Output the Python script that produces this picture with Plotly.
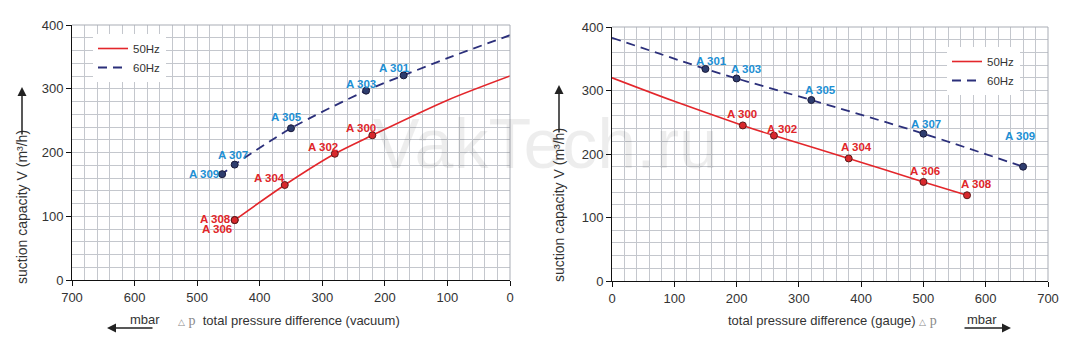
import plotly.graph_objects as go

# ---------------- data ----------------
# Left chart: vacuum
vac_50_curve_x = [0, 100, 220, 280, 360, 440]
vac_50_curve_y = [320, 282, 227, 198, 149, 94]
vac_60_curve_x = [0, 100, 170, 230, 350, 440, 460]
vac_60_curve_y = [384, 348, 321, 297, 238, 181, 166]

vac_50_pts_x = [220, 280, 360, 440, 440]
vac_50_pts_y = [227, 198, 149, 94, 94]
vac_50_names = ["A 300", "A 302", "A 304", "A 308", "A 306"]

vac_60_pts_x = [170, 230, 350, 440, 460]
vac_60_pts_y = [321, 297, 238, 181, 166]
vac_60_names = ["A 301", "A 303", "A 305", "A 307", "A 309"]

# Right chart: gauge (pressure)
gau_50_curve_x = [0, 100, 210, 260, 380, 500, 570]
gau_50_curve_y = [320, 283, 245, 229, 193, 156, 135]
gau_60_curve_x = [0, 150, 200, 320, 500, 660]
gau_60_curve_y = [383, 334, 319, 285, 232, 180]

gau_50_pts_x = [210, 260, 380, 500, 570]
gau_50_pts_y = [245, 229, 193, 156, 135]
gau_50_names = ["A 300", "A 302", "A 304", "A 306", "A 308"]

gau_60_pts_x = [150, 200, 320, 500, 660]
gau_60_pts_y = [334, 319, 285, 232, 180]
gau_60_names = ["A 301", "A 303", "A 305", "A 307", "A 309"]

x_ticks = [0, 100, 200, 300, 400, 500, 600, 700]
y_ticks = [0, 100, 200, 300, 400]

# label offsets in pixels (dx, dy-up)
vac_50_off = [(-11, 7), (-12, 7), (-15, 7), (-19, 1), (-18, -9)]
vac_60_off = [(-9, 7), (-5, 7), (-5, 11), (-2, 10), (-18, 0)]
gau_50_off = [(-1, 11), (8, 7), (8, 11), (2, 11), (9, 11)]
gau_60_off = [(6, 8), (9, 9), (9, 10), (3, 10), (-3, 31)]

# ---------------- style ----------------
W, H = 1072, 345
RED = "#e3262b"
NAVY = "#2b2f7a"
LBL_RED = "#e0262a"
LBL_BLUE = "#1d8fd3"
GRID = "#c4c7cd"
FONT = "Liberation Sans, Arial, sans-serif"
TXT = "#333333"

fig = go.Figure()

def add_series(cx, cy, px_, py_, color, dash, mfill, mline, xa, ya, name, legend):
    fig.add_trace(go.Scatter(
        x=cx, y=cy, mode="lines", name=name,
        line=dict(color=color, width=1.6 if dash == "solid" else 1.8, dash=dash,
                  shape="spline", smoothing=0.8),
        xaxis=xa, yaxis=ya, legend=legend, showlegend=True, hoverinfo="skip"))
    fig.add_trace(go.Scatter(
        x=px_, y=py_, mode="markers", showlegend=False,
        marker=dict(size=7, color=mfill, line=dict(color=mline, width=1)),
        xaxis=xa, yaxis=ya, hoverinfo="skip"))

add_series(vac_50_curve_x, vac_50_curve_y, vac_50_pts_x, vac_50_pts_y, RED, "solid", "#d8282c", "#5a1a1a", "x", "y", "50Hz", "legend")
add_series(vac_60_curve_x, vac_60_curve_y, vac_60_pts_x, vac_60_pts_y, NAVY, "9px,6px", "#2e3d6e", "#1a1a3a", "x", "y", "60Hz", "legend")
add_series(gau_50_curve_x, gau_50_curve_y, gau_50_pts_x, gau_50_pts_y, RED, "solid", "#d8282c", "#5a1a1a", "x2", "y2", "50Hz", "legend2")
add_series(gau_60_curve_x, gau_60_curve_y, gau_60_pts_x, gau_60_pts_y, NAVY, "9px,6px", "#2e3d6e", "#1a1a3a", "x2", "y2", "60Hz", "legend2")

annotations = []

def add_labels(xs, ys, names, offs, color, xref, yref):
    for x, y, n, (dx, dy) in zip(xs, ys, names, offs):
        annotations.append(dict(
            x=x, y=y, xref=xref, yref=yref, text="<b>%s</b>" % n, showarrow=False,
            xanchor="center", yanchor="middle", xshift=dx, yshift=dy,
            font=dict(family=FONT, size=11.5, color=color)))

add_labels(vac_50_pts_x, vac_50_pts_y, vac_50_names, vac_50_off, LBL_RED, "x", "y")
add_labels(vac_60_pts_x, vac_60_pts_y, vac_60_names, vac_60_off, LBL_BLUE, "x", "y")
add_labels(gau_50_pts_x, gau_50_pts_y, gau_50_names, gau_50_off, LBL_RED, "x2", "y2")
add_labels(gau_60_pts_x, gau_60_pts_y, gau_60_names, gau_60_off, LBL_BLUE, "x2", "y2")

def px(x):
    return x / W

def py(y):
    return (H - y) / H

# y-axis titles
for xp, yc in [(22, 207), (559, 205)]:
    annotations.append(dict(x=px(xp), y=py(yc), xref="paper", yref="paper",
                            text="suction capacity V (m³/h)", textangle=-90, showarrow=False,
                            xanchor="center", yanchor="middle",
                            font=dict(family=FONT, size=14, color=TXT)))
# y-axis arrows (head up)
for xp, yh, yt in [(22, 87, 136), (559, 85, 134)]:
    annotations.append(dict(x=px(xp), y=py(yh), xref="paper", yref="paper", text="",
                            showarrow=True, ax=0, ay=yt - yh, arrowhead=2, arrowsize=1.2,
                            arrowwidth=1.5, arrowcolor="#222222"))

dp = ('<span style="font-size:9px;color:#8a8a8a">△</span>'
      '<span style="font-family:Liberation Serif, serif;font-size:14px;color:#8a8a8a"> p</span>')
annotations.append(dict(x=px(176), y=py(320), xref="paper", yref="paper",
                        text=dp + "  total pressure difference (vacuum)", showarrow=False,
                        xanchor="left", yanchor="middle",
                        font=dict(family=FONT, size=13, color=TXT)))
annotations.append(dict(x=px(726), y=py(320), xref="paper", yref="paper",
                        text="total pressure difference (gauge) " + dp, showarrow=False,
                        xanchor="left", yanchor="middle",
                        font=dict(family=FONT, size=13, color=TXT)))
# mbar labels and arrows
annotations.append(dict(x=px(128), y=py(319), xref="paper", yref="paper", text="mbar",
                        showarrow=False, xanchor="left", yanchor="middle",
                        font=dict(family=FONT, size=13, color=TXT)))
annotations.append(dict(x=px(965), y=py(319), xref="paper", yref="paper", text="mbar",
                        showarrow=False, xanchor="left", yanchor="middle",
                        font=dict(family=FONT, size=13, color=TXT)))
annotations.append(dict(x=px(107), y=py(328), xref="paper", yref="paper", text="",
                        showarrow=True, ax=47, ay=0, arrowhead=2, arrowsize=1.2,
                        arrowwidth=1.5, arrowcolor="#222222"))
annotations.append(dict(x=px(1011), y=py(328), xref="paper", yref="paper", text="",
                        showarrow=True, ax=-48, ay=0, arrowhead=2, arrowsize=1.2,
                        arrowwidth=1.5, arrowcolor="#222222"))
# watermark
annotations.append(dict(x=px(545), y=py(144), xref="paper", yref="paper", text="VakTech.ru",
                        showarrow=False, xanchor="center", yanchor="middle",
                        font=dict(family=FONT, size=70, color="rgba(0,0,0,0.07)")))

def xaxis_cfg(domain, rng, anchor):
    return dict(domain=domain, range=rng, anchor=anchor, tickvals=x_ticks,
                automargin=False,
                showgrid=True, gridcolor=GRID, gridwidth=1, zeroline=False,
                showline=True, linecolor="#111111", linewidth=1,
                ticks="outside", ticklen=5, tickcolor="#111111",
                tickfont=dict(family=FONT, size=13, color=TXT),
                minor=dict(dtick=20, showgrid=True, gridcolor=GRID, gridwidth=1, ticks=""),
                fixedrange=True)

def yaxis_cfg(domain, anchor):
    return dict(domain=domain, range=[0, 400], anchor=anchor, tickvals=y_ticks,
                automargin=False,
                showgrid=True, gridcolor=GRID, gridwidth=1, zeroline=False,
                showline=True, linecolor="#111111", linewidth=1,
                ticks="outside", ticklen=5, tickcolor="#111111",
                tickfont=dict(family=FONT, size=13, color=TXT),
                minor=dict(dtick=20, showgrid=True, gridcolor=GRID, gridwidth=1, ticks=""),
                fixedrange=True)

lx0, lx1 = 72, 510
rx0, rx1 = 612, 1048
ly0, ly1 = 25, 280
ry0, ry1 = 27, 281

shapes = []
FRAME = "#a9adb5"
for (x0, x1, y0, y1) in [(lx0, lx1, ly0, ly1), (rx0, rx1, ry0, ry1)]:
    shapes.append(dict(type="line", xref="paper", yref="paper", x0=px(x0), x1=px(x1),
                       y0=py(y0), y1=py(y0), line=dict(color=FRAME, width=1)))
    shapes.append(dict(type="line", xref="paper", yref="paper", x0=px(x1), x1=px(x1),
                       y0=py(y0), y1=py(y1), line=dict(color=FRAME, width=1)))

fig.update_layout(
    width=W, height=H,
    margin=dict(l=0, r=0, t=0, b=0, pad=0, autoexpand=False),
    paper_bgcolor="white", plot_bgcolor="white",
    font=dict(family=FONT, size=12, color=TXT),
    xaxis=xaxis_cfg([px(lx0), px(lx1)], [700, 0], "y"),
    yaxis=yaxis_cfg([py(ly1), py(ly0)], "x"),
    xaxis2=xaxis_cfg([px(rx0), px(rx1)], [0, 700], "y2"),
    yaxis2=yaxis_cfg([py(ry1), py(ry0)], "x2"),
    legend=dict(x=px(93), y=py(34), xanchor="left", yanchor="top",
                bgcolor="white", borderwidth=0, itemwidth=30,
                font=dict(family=FONT, size=11.5, color=TXT), tracegroupgap=0),
    legend2=dict(x=px(947), y=py(47), xanchor="left", yanchor="top",
                 bgcolor="white", borderwidth=0, itemwidth=30,
                 font=dict(family=FONT, size=11.5, color=TXT), tracegroupgap=0),
    annotations=annotations,
    shapes=shapes,
    showlegend=True,
)

fig.write_html("out.html")
